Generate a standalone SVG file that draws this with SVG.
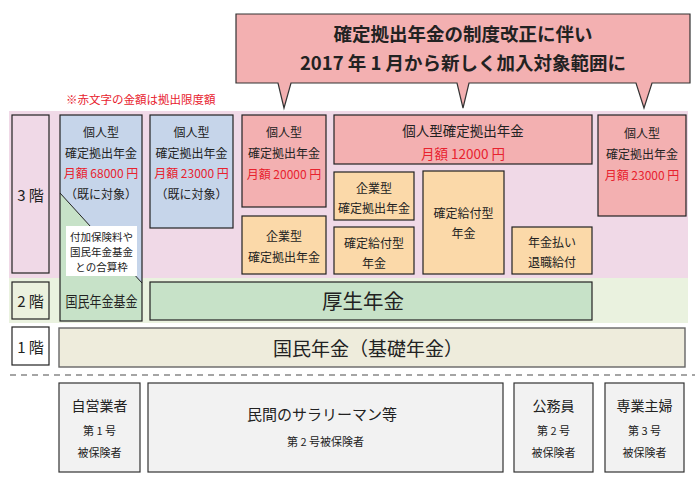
<svg xmlns="http://www.w3.org/2000/svg" width="700" height="480" viewBox="0 0 700 480">
<style>
text{font-family:"Noto Sans CJK JP","Noto Sans",sans-serif;fill:#222;text-anchor:middle;dominant-baseline:central;font-size:12px}
.red{fill:#e8222e}
.box{stroke:#222;stroke-width:1.2}
.blue{fill:#c6d5ea}
.pink{fill:#f3b0b1}
.org{fill:#fbd9a9}
.grn{fill:#c7e2c8}
.gray{fill:#f2f2f2;stroke:#333;stroke-width:1.2}
.lbl{font-size:15px}
.hd{font-size:18.5px;font-weight:bold}
</style>
<!-- bands -->
<rect x="9" y="111" width="679" height="167" fill="#f0d9e7"/>
<rect x="9" y="278" width="679" height="45" fill="#eaf2df"/>
<text x="66" y="99" class="red" style="text-anchor:start;font-size:11.5px">※赤文字の金額は拠出限度額</text>

<!-- callout -->
<g id="callout">
<path d="M236,14 H690 V83 H652 L644,108 L636,83 H469 L463,108 L457,83 H291 L284,108 L278,83 H236 Z" fill="#f3b0b1" stroke="#333" stroke-width="1.2"/>
<text x="463" y="33" class="hd">確定拠出年金の制度改正に伴い</text>
<text x="463" y="62" class="hd">2017 年 1 月から新しく加入対象範囲に</text>
</g>

<!-- floor labels -->
<g id="floor3"><rect x="12" y="115" width="37" height="158" fill="#f0d9e7" class="box"/><text x="30.5" y="194" class="lbl">3 階</text></g>
<g id="floor2"><rect x="12" y="282" width="37" height="37" fill="#ebf1de" class="box"/><text x="30.5" y="300" class="lbl">2 階</text></g>
<g id="floor1"><rect x="12" y="327" width="37" height="38" fill="#fff" class="box"/><text x="30.5" y="346" class="lbl">1 階</text></g>

<!-- column 1 -->
<g id="kokumin-kikin">
<rect x="60" y="115" width="82" height="206" class="blue"/>
<polygon points="60,193 142,283 142,321 60,321" class="grn"/>
<line x1="60" y1="193" x2="142" y2="283" stroke="#222" stroke-width="1"/>
<rect x="60" y="115" width="82" height="206" fill="none" class="box"/>
<text x="101" y="131">個人型</text>
<text x="101" y="152">確定拠出年金</text>
<text x="101" y="172" class="red">月額 68000 円</text>
<text x="101" y="193">（既に対象）</text>
<rect x="66" y="226" width="71" height="50" fill="#fff"/>
<text x="101.5" y="236" style="font-size:10.5px">付加保険料や</text>
<text x="101.5" y="251" style="font-size:10.5px">国民年金基金</text>
<text x="101.5" y="266" style="font-size:10.5px">との合算枠</text>
<text x="101.5" y="300" style="font-size:15px" textLength="72" lengthAdjust="spacingAndGlyphs">国民年金基金</text>
</g>

<!-- column 2 -->
<g id="ideco-23000a">
<rect x="150" y="115" width="83" height="113" class="box blue"/>
<text x="191.5" y="131">個人型</text>
<text x="191.5" y="152">確定拠出年金</text>
<text x="191.5" y="172" class="red">月額 23000 円</text>
<text x="191.5" y="193">（既に対象）</text>
</g>

<!-- column 3 -->
<g id="ideco-20000">
<rect x="242" y="115" width="84" height="92" class="box pink"/>
<text x="284" y="131">個人型</text>
<text x="284" y="152">確定拠出年金</text>
<text x="284" y="173" class="red">月額 20000 円</text>
</g>
<g id="dc-corp-1">
<rect x="242" y="216" width="84" height="58" class="box org"/>
<text x="284" y="235">企業型</text>
<text x="284" y="256">確定拠出年金</text>
</g>

<!-- column 4 -->
<g id="ideco-12000">
<rect x="334" y="115" width="258" height="49" class="box pink"/>
<text x="463" y="130" style="font-size:13.5px">個人型確定拠出年金</text>
<text x="463" y="153" class="red" style="font-size:13.5px">月額 12000 円</text>
</g>
<g id="dc-corp-2">
<rect x="334" y="172" width="80" height="48" class="box org"/>
<text x="374" y="187">企業型</text>
<text x="374" y="207">確定拠出年金</text>
</g>
<g id="db-small">
<rect x="334" y="227" width="80" height="47" class="box org"/>
<text x="374" y="242">確定給付型</text>
<text x="374" y="262">年金</text>
</g>
<g id="db-large">
<rect x="423" y="171" width="81" height="103" class="box org"/>
<text x="463.5" y="212">確定給付型</text>
<text x="463.5" y="232">年金</text>
</g>
<g id="nenkin-barai">
<rect x="512" y="227" width="80" height="47" class="box org"/>
<text x="552" y="241">年金払い</text>
<text x="552" y="261">退職給付</text>
</g>

<!-- column 5 -->
<g id="ideco-23000b">
<rect x="598" y="115" width="88" height="101" class="box pink"/>
<text x="642" y="132">個人型</text>
<text x="642" y="153">確定拠出年金</text>
<text x="642" y="174" class="red">月額 23000 円</text>
</g>

<!-- floor 2 -->
<g id="kosei">
<rect x="150" y="282" width="442" height="38" class="box grn"/>
<text x="363" y="300" style="font-size:20.5px">厚生年金</text>
</g>

<!-- floor 1 -->
<g id="kokumin">
<rect x="59" y="328" width="626" height="39" fill="#eeecdc" stroke="#666" stroke-width="1.4"/>
<text x="368" y="347" style="font-size:19px">国民年金（基礎年金）</text>
</g>

<g id="connectors">
<line x1="10" y1="375" x2="695" y2="375" stroke="#888" stroke-width="1.5" stroke-dasharray="6,5"/>
</g>

<!-- bottom -->
<g id="jiei">
<rect x="59" y="383" width="81" height="89" class="gray"/>
<text x="99.5" y="405" style="font-size:14px">自営業者</text>
<text x="99.5" y="430" style="font-size:11px">第 1 号</text>
<text x="99.5" y="452" style="font-size:11px">被保険者</text>
</g>
<g id="minkan">
<rect x="148" y="383" width="355" height="89" class="gray"/>
<text x="322" y="413" style="font-size:15px">民間のサラリーマン等</text>
<text x="325.5" y="441" style="font-size:11px">第 2 号被保険者</text>
</g>
<g id="komuin">
<rect x="514" y="383" width="79" height="89" class="gray"/>
<text x="553.5" y="405" style="font-size:14px">公務員</text>
<text x="553.5" y="430" style="font-size:11px">第 2 号</text>
<text x="553.5" y="452" style="font-size:11px">被保険者</text>
</g>
<g id="sengyo">
<rect x="605" y="383" width="79" height="89" class="gray"/>
<text x="644.5" y="405" style="font-size:14px">専業主婦</text>
<text x="644.5" y="430" style="font-size:11px">第 3 号</text>
<text x="644.5" y="452" style="font-size:11px">被保険者</text>
</g>
</svg>
